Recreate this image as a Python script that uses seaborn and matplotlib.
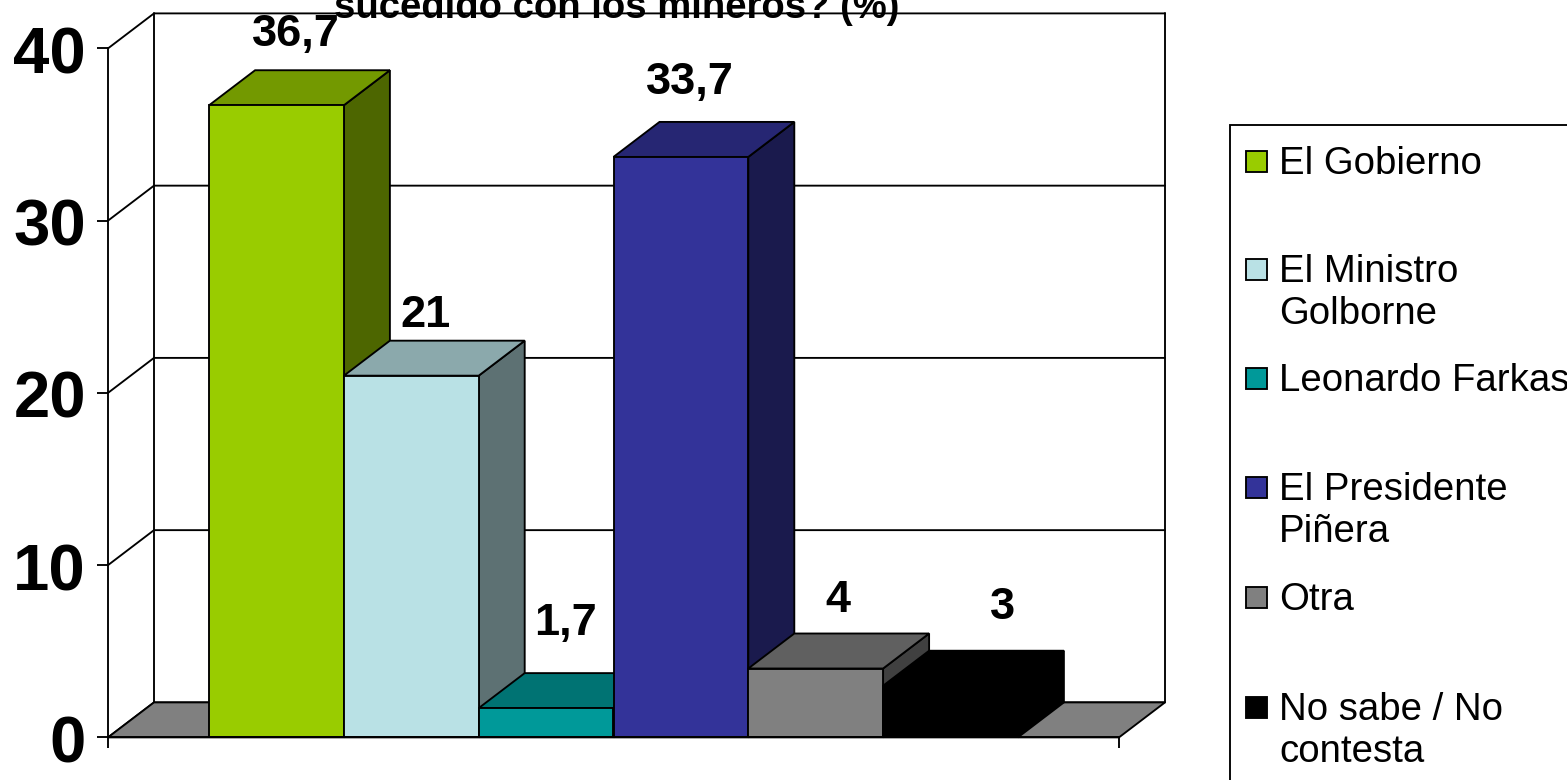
import pandas as pd
import matplotlib
matplotlib.use("Agg")
import matplotlib.pyplot as plt
from matplotlib.colors import to_rgb
from matplotlib.patches import Polygon, Rectangle
from matplotlib.transforms import ScaledTranslation
import seaborn as sns

categories = ["El Gobierno", "El Ministro\nGolborne", "Leonardo Farkas",
              "El Presidente\nPiñera", "Otra", "No sabe / No\ncontesta"]
values = [36.7, 21, 1.7, 33.7, 4, 3]
value_labels = ["36,7", "21", "1,7", "33,7", "4", "3"]
colors = ["#99CC00", "#B9E1E5", "#009999", "#333399", "#808080", "#000000"]
y_ticks = [0, 10, 20, 30, 40]
title_line = "sucedido con los mineros? (%)"

W, H = 1567, 780
PX_X = 1 / 1011
PX_Y = 40 / 689
DEPTH_X = 46 * PX_X
DEPTH_Y = 35 * PX_Y
LW = 1.35

# nudges of the value labels from the top centre of each bar, in pixels
label_dx = [19, 14, 19, 9, 22, 52]
label_dy = [71, 60, 85, 74, 68, 78]


def shade(color, factor):
    return tuple(c * factor for c in to_rgb(color))


sns.set_theme(style="white", rc={"text.color": "black", "ytick.color": "black",
                                 "xtick.color": "black", "axes.edgecolor": "black",
                                 "xtick.bottom": True, "ytick.left": True})
plt.rcParams["font.family"] = ["Liberation Sans", "DejaVu Sans"]

fig = plt.figure(figsize=(W / 100, H / 100), dpi=100, facecolor="white")
ax = fig.add_axes([108 / W, (H - 737.4) / H, 1011 / W, 689 / H])

df = pd.DataFrame({"group": [""] * len(values), "category": categories, "value": values})
sns.barplot(data=df, x="group", y="value", hue="category", hue_order=categories,
            palette=colors, saturation=1, width=0.8, gap=0, legend=False,
            edgecolor="black", linewidth=LW, ax=ax)

ax.set_xlim(-0.5, 0.5)
ax.set_ylim(0, 40)
ax.set_xlabel("")
ax.set_ylabel("")
ax.set_xticks([-0.5, 0.5], labels=["", ""])
ax.set_yticks(y_ticks)
ax.tick_params(axis="y", length=8, width=LW, pad=8, labelsize=47)
ax.tick_params(axis="x", length=8, width=LW)
# tick labels sit a touch below their ticks in the original
nudge = ScaledTranslation(0, -1.5 / 100, fig.dpi_scale_trans)
for label in ax.get_yticklabels():
    label.set_fontweight("bold")
    label.set_transform(label.get_transform() + nudge)
ax.patch.set_visible(False)
sns.despine(ax=ax)
for side in ["left", "bottom"]:
    ax.spines[side].set_linewidth(LW)
    ax.spines[side].set_zorder(20)

# back wall, gridlines and floor
x0, x1 = -0.5, 0.5
for t in y_ticks:
    ax.plot([x0, x0 + DEPTH_X, x1 + DEPTH_X], [t, t + DEPTH_Y, t + DEPTH_Y],
            color="black", lw=LW, clip_on=False, zorder=1)
ax.plot([x0 + DEPTH_X, x0 + DEPTH_X], [DEPTH_Y, 40 + DEPTH_Y], color="black", lw=LW, clip_on=False, zorder=1)
ax.plot([x1 + DEPTH_X, x1 + DEPTH_X], [DEPTH_Y, 40 + DEPTH_Y], color="black", lw=LW, clip_on=False, zorder=1)
ax.add_patch(Polygon([(x0, 0), (x0 + DEPTH_X, DEPTH_Y), (x1 + DEPTH_X, DEPTH_Y), (x1, 0)],
                     facecolor="#808080", edgecolor="black", lw=LW, clip_on=False, zorder=2))

# side and top faces taken from the bars seaborn drew
for i, container in enumerate(ax.containers):
    bar = container[0]
    left, w, h = bar.get_x(), bar.get_width(), bar.get_height()
    right = left + w
    bar.set_zorder(3 + i + 0.5)
    bar.set_clip_on(False)
    ax.add_patch(Polygon([(right, 0), (right + DEPTH_X, DEPTH_Y), (right + DEPTH_X, h + DEPTH_Y), (right, h)],
                         facecolor=shade(colors[i], 0.5), edgecolor="black", lw=LW,
                         clip_on=False, zorder=3 + i))
    ax.add_patch(Polygon([(left, h), (left + DEPTH_X, h + DEPTH_Y), (right + DEPTH_X, h + DEPTH_Y), (right, h)],
                         facecolor=shade(colors[i], 0.75), edgecolor="black", lw=LW,
                         clip_on=False, zorder=3 + i))
    ax.annotate(value_labels[i], xy=(left + w / 2, h), xytext=(label_dx[i], label_dy[i]),
                textcoords="offset pixels", ha="center", va="center",
                fontsize=32.5, fontweight="bold", zorder=15, annotation_clip=False)

# overlay in pixel coordinates for the cut off title and the legend
overlay = fig.add_axes([0, 0, 1, 1])
overlay.set_xlim(0, W)
overlay.set_ylim(H, 0)
overlay.axis("off")

overlay.text(617, 18, title_line, ha="center", va="baseline", fontsize=27.5, fontweight="bold")

overlay.add_patch(Rectangle((1230, 125), 500, 800, facecolor="white", edgecolor="black", lw=LW))
legend_y = [161, 269, 378, 487, 597, 707]
for name, color, y in zip(categories, colors, legend_y):
    overlay.add_patch(Rectangle((1246, y - 10.5), 21, 21, facecolor=color, edgecolor="black", lw=LW))
    for j, line in enumerate(name.split("\n")):
        overlay.text(1279, y + 13 + 42 * j, line, ha="left", va="baseline", fontsize=27.6)

fig.savefig("out.png", dpi=100)
